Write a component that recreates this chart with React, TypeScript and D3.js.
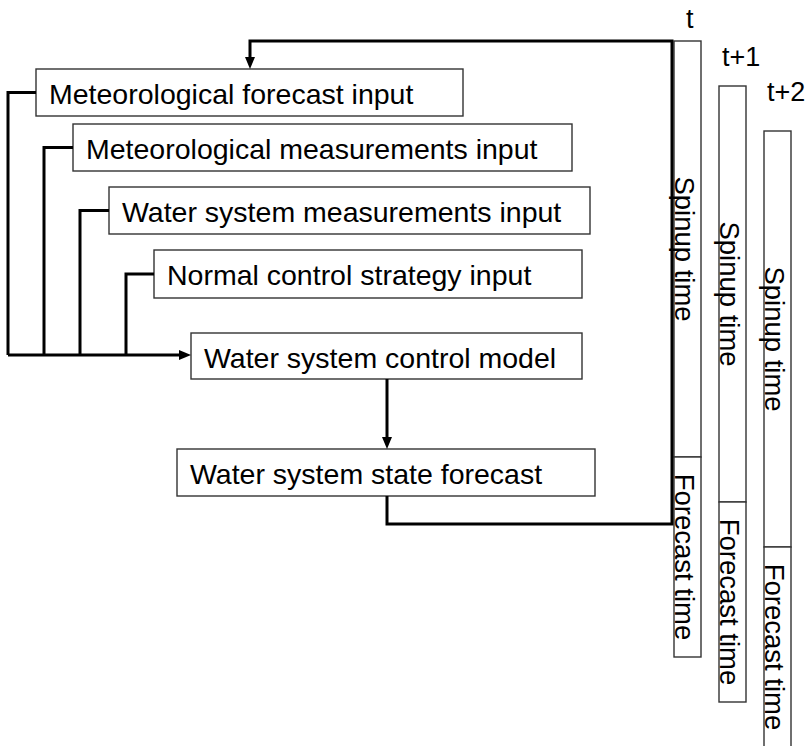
import React from "react";
import * as d3 from "d3";

// ---- content ----
const inputLabels = [
  "Meteorological forecast input",
  "Meteorological measurements input",
  "Water system measurements input",
  "Normal control strategy input",
];
const modelLabel = "Water system control model";
const stateLabel = "Water system state forecast";
const timeSteps = ["t", "t+1", "t+2"];
const phaseLabels = ["Spinup time", "Forecast time"];
const phaseLengths = [104, 50]; // relative durations (spinup, forecast)

// ---- layout ----
const W = 809;
const H = 746;
const FONT = "'Liberation Sans', Arial, Helvetica, sans-serif";
const inputBoxes = [
  { x: 36, y: 69, w: 427, h: 47 },
  { x: 73, y: 124, w: 499, h: 47 },
  { x: 109, y: 187, w: 481, h: 47 },
  { x: 154, y: 250, w: 428, h: 48 },
];
const modelBox = { x: 191, y: 333, w: 391, h: 46 };
const stateBox = { x: 177, y: 449, w: 418, h: 47 };
const busX = [8, 44, 80, 126];
const busY = 355;
const barX0 = 674;
const barY0 = 41;
const barW = 27;
const stepD = 45;
const labelDx = [12, 3, 3];
const labelDy = [13, 20, 30];

const line = d3.line<[number, number]>();
const totalLen = d3.sum(phaseLengths);
const yLen = d3.scaleLinear().domain([0, totalLen]).range([0, 616]);

function Arrow({ x, y, dir }: { x: number; y: number; dir: "down" | "right" }) {
  const L = 12, hw = 5;
  const pts: [number, number][] =
    dir === "down"
      ? [[x, y], [x - hw, y - L], [x + hw, y - L]]
      : [[x, y], [x - L, y - hw], [x - L, y + hw]];
  return <path d={line(pts) + "Z"} fill="#000" />;
}

function Box({ b, label }: { b: { x: number; y: number; w: number; h: number }; label: string }) {
  return (
    <g>
      <rect x={b.x} y={b.y} width={b.w} height={b.h} fill="#fff" stroke="#333" strokeWidth={1.4} />
      <text x={b.x + 13} y={b.y + 35} fontSize={28.5} fontFamily={FONT} fill="#000">
        {label}
      </text>
    </g>
  );
}

export default function App() {
  const bars = timeSteps.map((s, i) => {
    const x = barX0 + i * stepD;
    const y = barY0 + i * stepD;
    let acc = 0;
    const segs = phaseLengths.map((len, k) => {
      const y1 = y + yLen(acc);
      acc += len;
      const y2 = y + yLen(acc);
      return { y1, y2, label: phaseLabels[k] };
    });
    return { s, i, x, y, segs };
  });

  const feedback: [number, number][] = [
    [387, stateBox.y + stateBox.h],
    [387, 524],
    [672, 524],
    [672, 41],
    [250, 41],
    [250, inputBoxes[0].y - 10],
  ];

  return (
    <svg width={W} height={H} style={{ position: "absolute", left: 0, top: 0, background: "#fff" }}>
      <rect width={W} height={H} fill="#fff" />
      {/* time bars */}
      {bars.map((b) => (
        <g key={b.s}>
          <text x={b.x + labelDx[b.i]} y={b.y - labelDy[b.i]} fontSize={27} fontFamily={FONT} fill="#000">
            {b.s}
          </text>
          {b.segs.map((sg) => (
            <g key={sg.label}>
              <rect x={b.x} y={sg.y1} width={barW} height={sg.y2 - sg.y1} fill="#fff" stroke="#333" strokeWidth={1.4} />
              <text
                transform={`translate(${b.x + 1},${(sg.y1 + sg.y2) / 2}) rotate(90)`}
                textAnchor="middle"
                fontSize={27.5}
                fontFamily={FONT}
                fill="#000"
              >
                {sg.label}
              </text>
            </g>
          ))}
        </g>
      ))}

      {/* boxes */}
      {inputLabels.map((l, i) => (
        <Box key={l} b={inputBoxes[i]} label={l} />
      ))}
      <Box b={modelBox} label={modelLabel} />
      <Box b={stateBox} label={stateLabel} />

      {/* input connectors */}
      {inputBoxes.map((b, i) => (
        <path
          key={i}
          d={line([[b.x, b.y + b.h / 2], [busX[i], b.y + b.h / 2], [busX[i], busY]]) || ""}
          fill="none"
          stroke="#000"
          strokeWidth={3}
        />
      ))}
      <path d={line([[busX[0], busY], [modelBox.x - 10, busY]]) || ""} stroke="#000" strokeWidth={3} fill="none" />
      <Arrow x={modelBox.x} y={busY} dir="right" />

      {/* model -> state */}
      <path d={line([[387, modelBox.y + modelBox.h], [387, stateBox.y - 10]]) || ""} stroke="#000" strokeWidth={3} fill="none" />
      <Arrow x={387} y={stateBox.y} dir="down" />

      {/* feedback loop */}
      <path d={line(feedback) || ""} stroke="#000" strokeWidth={3} fill="none" />
      <Arrow x={250} y={inputBoxes[0].y} dir="down" />
    </svg>
  );
}
